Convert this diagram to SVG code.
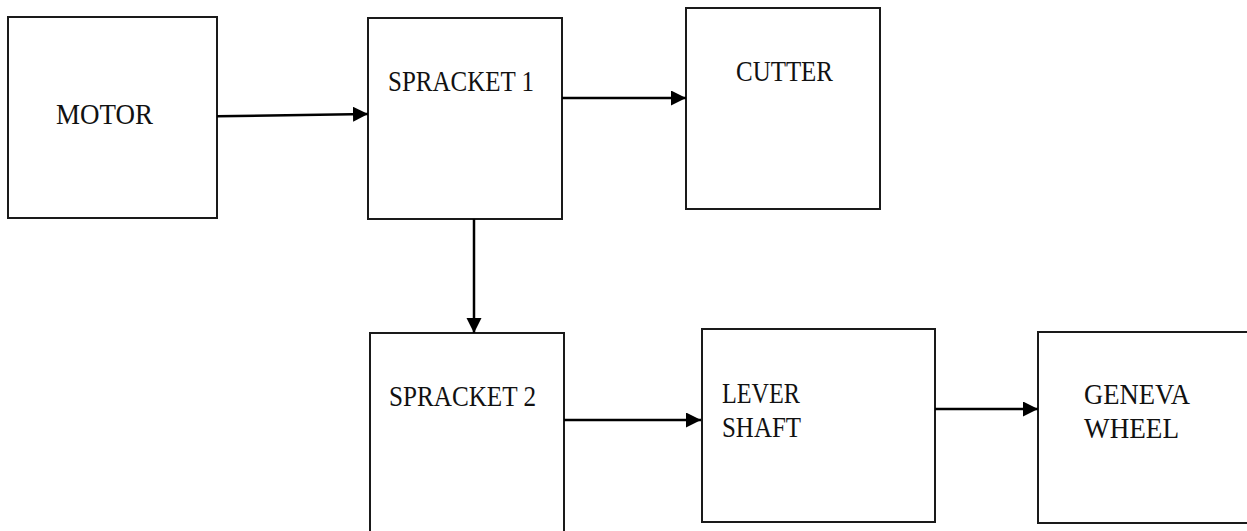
<svg xmlns="http://www.w3.org/2000/svg" width="1247" height="531" viewBox="0 0 1247 531">
  <style>
    .box { fill: #ffffff; stroke: #1a1a1a; stroke-width: 2; }
    .lbl { font-family: "Liberation Serif", "DejaVu Serif", serif; font-size: 30px; fill: #111111; }
    .wire { fill: none; stroke: #000000; stroke-width: 2.5; }
  </style>
  <defs>
    <marker id="head" markerWidth="16" markerHeight="16" refX="15" refY="7.5" orient="auto" markerUnits="userSpaceOnUse">
      <path d="M0,0 L15,7.5 L0,15 Z" fill="#000000"/>
    </marker>
  </defs>
  <rect width="1247" height="531" fill="#ffffff"/>

  <g id="motor">
    <rect class="box" x="8" y="17" width="209" height="201"/>
    <text class="lbl" x="56" y="124" textLength="97" lengthAdjust="spacingAndGlyphs">MOTOR</text>
  </g>

  <g id="spracket1">
    <rect class="box" x="368" y="18" width="194" height="201"/>
    <text class="lbl" x="388" y="91" textLength="146" lengthAdjust="spacingAndGlyphs">SPRACKET 1</text>
  </g>

  <g id="cutter">
    <rect class="box" x="686" y="8" width="194" height="201"/>
    <text class="lbl" x="736" y="81" textLength="97" lengthAdjust="spacingAndGlyphs">CUTTER</text>
  </g>

  <g id="spracket2">
    <rect class="box" x="370" y="333" width="194" height="210"/>
    <text class="lbl" x="389" y="406" textLength="147" lengthAdjust="spacingAndGlyphs">SPRACKET 2</text>
  </g>

  <g id="lever-shaft">
    <rect class="box" x="702" y="329" width="233" height="193"/>
    <text class="lbl" x="722" y="403" textLength="78" lengthAdjust="spacingAndGlyphs">LEVER</text>
    <text class="lbl" x="722" y="437" textLength="79" lengthAdjust="spacingAndGlyphs">SHAFT</text>
  </g>

  <g id="geneva-wheel">
    <rect class="box" x="1038" y="332" width="230" height="191"/>
    <text class="lbl" x="1084" y="404" textLength="106" lengthAdjust="spacingAndGlyphs">GENEVA</text>
    <text class="lbl" x="1084" y="438" textLength="95" lengthAdjust="spacingAndGlyphs">WHEEL</text>
  </g>

  <g id="connectors">
    <line class="wire" x1="217" y1="116.3" x2="368" y2="114" marker-end="url(#head)"/>
    <line class="wire" x1="562" y1="98" x2="686" y2="98" marker-end="url(#head)"/>
    <line class="wire" x1="474" y1="219" x2="474" y2="333" marker-end="url(#head)"/>
    <line class="wire" x1="564" y1="420" x2="701" y2="420" marker-end="url(#head)"/>
    <line class="wire" x1="935" y1="409" x2="1038" y2="409" marker-end="url(#head)"/>
  </g>
</svg>
